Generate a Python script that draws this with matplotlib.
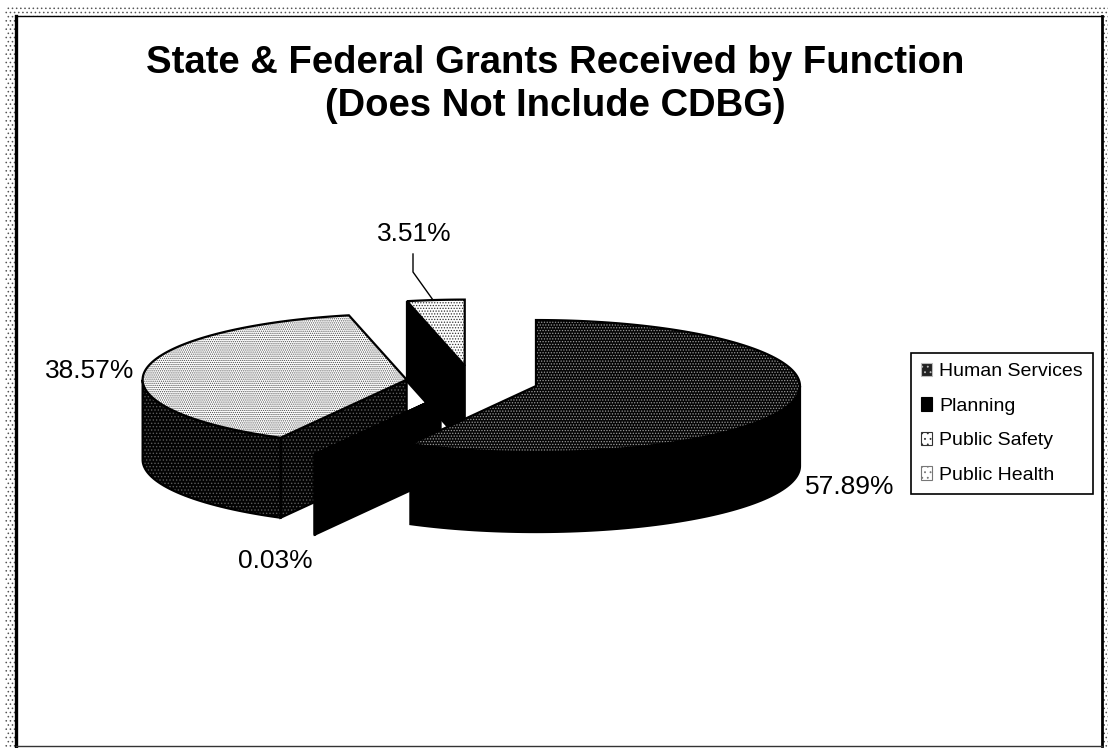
import numpy as np
import matplotlib

matplotlib.use("Agg")
import matplotlib.pyplot as plt
from matplotlib.patches import Polygon, Rectangle, Patch

plt.rcParams["font.family"] = ["Liberation Sans", "DejaVu Sans"]
plt.rcParams["hatch.linewidth"] = 0.6

# data
functions = ["Human Services", "Planning", "Public Safety", "Public Health"]
shares = [57.89, 0.03, 38.57, 3.51]
title_lines = ["State & Federal Grants Received by Function", "(Does Not Include CDBG)"]

# pie geometry, in figure pixels
CX, CY = 472, 382
RX, RY = 264, 66
DEPTH = 80
EXPLODE = 0.25

# top face, side face (fill, hatch colour, hatch) per slice
top_style = [("#050505", "#9a9a9a", "......"), ("black", "black", None), ("white", "#4a4a4a", "........"), ("white", "#333333", "......")]
side_style = [("black", "black", None), ("black", "black", None), ("#030303", "#5c5c5c", "....."), ("black", "black", None)]
legend_style = [("#222222", "#bbbbbb", "..."), ("black", "black", None), ("white", "#333333", "..."), ("white", "#777777", "...")]

# where each percentage goes, and the drawing order (back to front)
label_pos = [(850, 487), (275, 561), (90, 371), (414, 234)]
draw_order = [3, 2, 1, 0]

fig = plt.figure(figsize=(11.08, 7.48), dpi=100)
ax = fig.add_axes([0, 0, 1, 1])
ax.set_xlim(0, 1108)
ax.set_ylim(748, 0)
ax.axis("off")

# scanned stipple margin and chart frame
ax.add_patch(Rectangle((5, 5), 1103, 743, facecolor="white", edgecolor="#555555", hatch="....", linewidth=0, zorder=0))
ax.add_patch(Rectangle((16, 16), 1086, 730, facecolor="white", linewidth=0, zorder=1))
ax.plot([16, 16], [16, 746], color="black", linewidth=2.4, zorder=1.5)
ax.plot([1102, 1102], [16, 746], color="black", linewidth=2.0, zorder=1.5)
ax.plot([16, 1102], [16, 16], color="black", linewidth=1.0, zorder=1.5)
ax.plot([16, 1102], [746, 746], color="#333333", linewidth=1.0, zorder=1.5)


def point(apex, deg, r=1.0):
    t = np.radians(deg)
    return apex[0] + r * RX * np.sin(t), apex[1] - r * RY * np.cos(t)


def face(xy, style, z):
    fill, hatch_color, hatch = style
    ax.add_patch(Polygon(xy, closed=True, facecolor=fill, edgecolor=hatch_color, hatch=hatch, linewidth=0, zorder=z))
    ax.add_patch(Polygon(xy, closed=True, facecolor="none", edgecolor="black", linewidth=1.6, zorder=z + 0.1))


edges = np.cumsum([0] + shares) * 3.6
for i in draw_order:
    start, end = edges[i], edges[i + 1]
    mid = (start + end) / 2
    apex = point((CX, CY), mid, EXPLODE)
    z = 2 + draw_order.index(i)

    # radial wall that faces the viewer
    for deg, visible in ((start, np.sin(np.radians(start)) < -0.01), (end, np.sin(np.radians(end)) > 0.01)):
        if visible:
            rim = point(apex, deg)
            wall = [apex, rim, (rim[0], rim[1] + DEPTH), (apex[0], apex[1] + DEPTH)]
            face(wall, side_style[i], z)

    # outer rim, front half only
    lo, hi = max(start, 90), min(end, 270)
    if hi > lo:
        arc = [point(apex, d) for d in np.linspace(lo, hi, 80)]
        low = [(x, y + DEPTH) for x, y in reversed(arc)]
        face(arc + low, side_style[i], z + 0.2)

    # top face
    top = [apex] + [point(apex, d) for d in np.linspace(start, end, 160)]
    face(top, top_style[i], z + 0.4)

for value, (x, y) in zip(shares, label_pos):
    ax.text(x, y, f"{value:.2f}%", fontsize=19, ha="center", va="center", color="black", zorder=20)

# leader for the 3.51% slice
ax.plot([413, 413, 433], [254, 272, 300], color="black", linewidth=1.0, zorder=20)

ax.text(555, 63, title_lines[0], fontsize=27.5, fontweight="bold", ha="center", va="center", zorder=20)
ax.text(555, 106, title_lines[1], fontsize=27.5, fontweight="bold", ha="center", va="center", zorder=20)

handles = [
    Patch(facecolor=s[0], edgecolor="black" if s[2] is None else s[1], hatch=s[2], linewidth=0.8, label=name)
    for s, name in zip(legend_style, functions)
]
leg = ax.legend(
    handles=handles,
    loc="upper left",
    bbox_to_anchor=(911, 353),
    bbox_transform=ax.transData,
    borderaxespad=0,
    fontsize=14,
    frameon=True,
    fancybox=False,
    framealpha=1,
    edgecolor="black",
    handlelength=0.6,
    handleheight=0.67,
    handletextpad=0.35,
    labelspacing=0.88,
    borderpad=0.5,
)
leg.get_frame().set_linewidth(1.2)
leg.set_zorder(20)

fig.savefig("out.png", dpi=100)
plt.close()
